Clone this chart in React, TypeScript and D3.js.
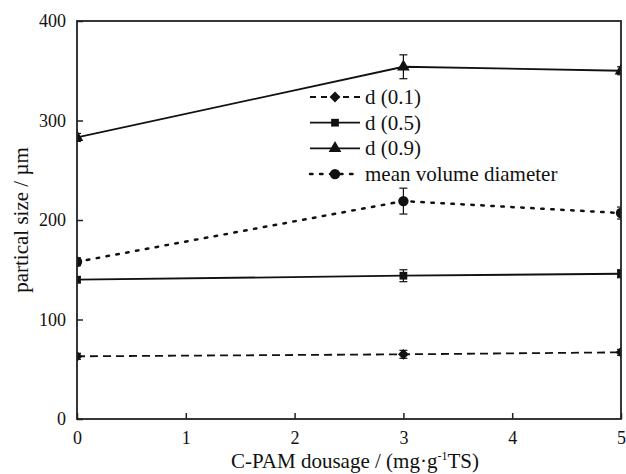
import React, { useEffect, useRef } from "react";
import * as d3 from "d3";

const dosage = [0, 3, 5];
const d01 = [63, 65, 67];
const d01Err = [3, 4, 3];
const d05 = [140, 144, 146];
const d05Err = [3, 6, 4];
const d09 = [283, 354, 350];
const d09Err = [4, 12, 4];
const meanVol = [158, 219, 207];
const meanVolErr = [4, 13, 6];

const xTicks = [0, 1, 2, 3, 4, 5];
const yTicks = [0, 100, 200, 300, 400];

const seriesNames = ["d (0.1)", "d (0.5)", "d (0.9)", "mean volume diameter"];

const FONT = '"Liberation Serif", "Times New Roman", serif';

const App = () => {
  const ref = useRef<SVGSVGElement>(null);
  const W = 626;
  const H = 474;
  const margin = { top: 21, right: 5, bottom: 55, left: 77 };

  useEffect(() => {
    const svg = d3.select(ref.current);
    svg.selectAll("*").remove();

    const x = d3.scaleLinear().domain([0, 5]).range([margin.left, W - margin.right]);
    const y = d3.scaleLinear().domain([0, 400]).range([H - margin.bottom, margin.top]);

    svg.append("defs").append("clipPath").attr("id", "plotclip")
      .append("rect")
      .attr("x", x(0)).attr("y", y(400))
      .attr("width", x(5) - x(0)).attr("height", y(0) - y(400));

    const diamond = (d3 as any).symbolDiamond2 || d3.symbolDiamond;
    const series = [
      { name: seriesNames[0], vals: d01, err: d01Err, dash: "8,5", sym: diamond, size: 75 },
      { name: seriesNames[1], vals: d05, err: d05Err, dash: null, sym: d3.symbolSquare, size: 60 },
      { name: seriesNames[2], vals: d09, err: d09Err, dash: null, sym: d3.symbolTriangle, size: 70 },
      { name: seriesNames[3], vals: meanVol, err: meanVolErr, dash: "2.5,7.5", sym: d3.symbolCircle, size: 85 },
    ];

    const plot = svg.append("g").attr("clip-path", "url(#plotclip)");
    const line = d3.line<number>().x((_, i) => x(dosage[i])).y((d) => y(d));

    series.forEach((s) => {
      plot.append("path")
        .datum(s.vals)
        .attr("d", line)
        .attr("fill", "none")
        .attr("stroke", "#111")
        .attr("stroke-width", s.dash === "2.5,7.5" ? 2.5 : 1.8)
        .attr("stroke-linecap", s.dash === "2.5,7.5" ? "round" : "butt")
        .attr("stroke-dasharray", s.dash);

      s.vals.forEach((v, i) => {
        const cx = x(dosage[i]);
        const lo = y(v - s.err[i]);
        const hi = y(v + s.err[i]);
        const g = plot.append("g").attr("stroke", "#111").attr("stroke-width", 1.2);
        g.append("line").attr("x1", cx).attr("x2", cx).attr("y1", lo).attr("y2", hi);
        g.append("line").attr("x1", cx - 4).attr("x2", cx + 4).attr("y1", lo).attr("y2", lo);
        g.append("line").attr("x1", cx - 4).attr("x2", cx + 4).attr("y1", hi).attr("y2", hi);
      });

      plot.selectAll(null)
        .data(s.vals)
        .enter()
        .append("path")
        .attr("d", d3.symbol().type(s.sym).size(s.size))
        .attr("transform", (d, i) => `translate(${x(dosage[i])},${y(d)})`)
        .attr("fill", "#111");
    });

    // frame
    svg.append("rect")
      .attr("x", x(0)).attr("y", y(400))
      .attr("width", x(5) - x(0)).attr("height", y(0) - y(400))
      .attr("fill", "none").attr("stroke", "#222").attr("stroke-width", 1.8);

    // axes
    const xAxis = svg.append("g")
      .attr("transform", `translate(0,${y(0)})`)
      .call(d3.axisBottom(x).tickValues(xTicks).tickSizeInner(-6).tickSizeOuter(0).tickPadding(12).tickFormat(d3.format("d")));
    xAxis.attr("font-family", null).attr("font-size", null);
    xAxis.select(".domain").remove();
    xAxis.selectAll("line").attr("stroke", "#222").attr("stroke-width", 1.5);
    xAxis.selectAll("text").style("font-family", FONT).style("font-size", "18px").attr("fill", "#111");

    const yAxis = svg.append("g")
      .attr("transform", `translate(${x(0)},0)`)
      .call(d3.axisLeft(y).tickValues(yTicks).tickSizeInner(-6).tickSizeOuter(0).tickPadding(11).tickFormat(d3.format("d")));
    yAxis.attr("font-family", null).attr("font-size", null);
    yAxis.select(".domain").remove();
    yAxis.selectAll("line").attr("stroke", "#222").attr("stroke-width", 1.5);
    yAxis.selectAll("text").style("font-family", FONT).style("font-size", "18px").attr("fill", "#111");

    // axis labels
    const xl = svg.append("text")
      .attr("x", 355).attr("y", 468)
      .attr("text-anchor", "middle")
      .style("font-family", FONT).style("font-size", "21px").attr("fill", "#111");
    xl.append("tspan").text("C-PAM dousage / (mg·g");
    xl.append("tspan").attr("dy", -8).style("font-size", "12px").text("-1");
    xl.append("tspan").attr("dy", 8).text("TS)");

    svg.append("text")
      .attr("transform", `translate(28,${y(200)}) rotate(-90)`)
      .attr("text-anchor", "middle")
      .style("font-family", FONT).style("font-size", "21px").attr("fill", "#111")
      .text("partical size / µm");

    // legend
    const lg = svg.append("g");
    series.forEach((s, i) => {
      const ly = 97 + i * 25.7;
      lg.append("line")
        .attr("x1", 310).attr("x2", 360).attr("y1", ly).attr("y2", ly)
        .attr("stroke", "#111")
        .attr("stroke-width", s.dash === "2.5,7.5" ? 2.5 : 1.8)
        .attr("stroke-linecap", s.dash === "2.5,7.5" ? "round" : "butt")
        .attr("stroke-dasharray", s.dash === "8,5" ? "6,5" : s.dash);
      lg.append("path")
        .attr("d", d3.symbol().type(s.sym).size(s.size)())
        .attr("transform", `translate(335,${ly})`)
        .attr("fill", "#111");
      lg.append("text")
        .attr("x", 365).attr("y", ly + 7)
        .style("font-family", FONT).style("font-size", "21px").attr("fill", "#111")
        .text(s.name);
    });
  }, []);

  return <svg ref={ref} width={W} height={H} style={{ position: "absolute", left: 0, top: 0, background: "#fff" }} />;
};

export default App;
